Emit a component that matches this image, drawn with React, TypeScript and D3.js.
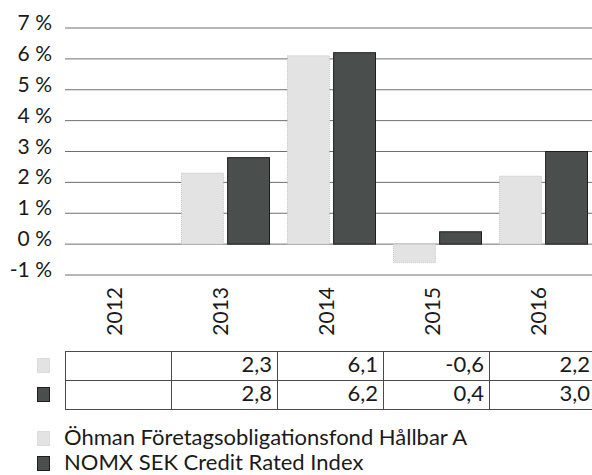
import * as d3 from 'd3';

const YEARS = ['2012', '2013', '2014', '2015', '2016'];
const FUND = [null, 2.3, 6.1, -0.6, 2.2];
const INDEX = [null, 2.8, 6.2, 0.4, 3.0];
const SERIES = ['Öhman Företagsobligationsfond Hållbar A', 'NOMX SEK Credit Rated Index'];
const Y_TICKS = [-1, 0, 1, 2, 3, 4, 5, 6, 7];

const W = 592;
const H = 475;
const FONT = 'Lato, "Open Sans", sans-serif';
const INK = '#1a1a1a';

const STYLES = [
  { fill: '#e3e3e3', stroke: '#c4c4c4', dash: '1,1' },
  { fill: '#4a4e4d', stroke: '#1e1e1e', dash: null },
];

const fmt = (v: number) => v.toFixed(1).replace('.', ',');

export default function App() {
  const x0 = d3.scaleBand<string>().domain(YEARS).range([65, 595]);
  const x1 = d3.scaleBand<number>().domain([0, 1]).range([10, 99]).paddingInner(0.07);
  const y = d3.scaleLinear().domain([-1, 7]).range([275, 28]);

  const data = [FUND, INDEX];

  const tableTop = 351;
  const rowH = 29;

  return (
    <>
      <style>{`body{margin:0}`}</style>
      <svg width={W} height={H} style={{ display: 'block', background: '#fff' }} fontFamily={FONT}>
        {/* grid */}
        {Y_TICKS.map(t => (
          <g key={t}>
            <line x1={65} x2={W} y1={y(t)} y2={y(t)} stroke="#6f6f6f" strokeWidth={1} />
            <text x={52} y={y(t) + 2} textAnchor="end" fontSize={21} fill={INK}>
              {`${t} %`}
            </text>
          </g>
        ))}

        {/* bars */}
        {data.map((vals, si) =>
          vals.map((v, i) => {
            if (v === null) return null;
            const bx = (x0(YEARS[i]) ?? 0) + (x1(si) ?? 0);
            const top = y(Math.max(0, v));
            const h = Math.abs(y(v) - y(0));
            const st = STYLES[si];
            return (
              <rect
                key={`${si}-${i}`}
                x={bx + 0.5}
                y={top}
                width={x1.bandwidth() - 1}
                height={h}
                fill={st.fill}
                stroke={st.stroke}
                strokeDasharray={st.dash ?? undefined}
                strokeWidth={1}
              />
            );
          })
        )}

        {/* year labels */}
        {YEARS.map(yr => {
          const cx = (x0(yr) ?? 0) + x0.bandwidth() / 2 + 4;
          return (
            <text
              key={yr}
              transform={`translate(${cx},287) rotate(-90)`}
              textAnchor="end"
              fontSize={21}
              fill={INK}
            >
              {yr}
            </text>
          );
        })}

        {/* data table */}
        <g>
          {data.map((vals, si) => {
            const ry = tableTop + si * rowH;
            const st = STYLES[si];
            return (
              <g key={si}>
                <rect x={37.5} y={ry + 7.5} width={12} height={14} fill={st.fill} stroke={st.stroke}
                  strokeDasharray={st.dash ?? undefined} />
                {vals.map((v, i) =>
                  v === null ? null : (
                    <text key={i} x={(x0(YEARS[i]) ?? 0) + x0.bandwidth() - 5} y={ry + 21}
                      textAnchor="end" fontSize={22} fill={INK}>
                      {fmt(v)}
                    </text>
                  )
                )}
              </g>
            );
          })}
          {[0, 1, 2].map(r => (
            <line key={`h${r}`} x1={65} x2={595} y1={tableTop + r * rowH + 0.5} y2={tableTop + r * rowH + 0.5}
              stroke="#4a4a4a" />
          ))}
          {YEARS.map(yr => (
            <line key={`v${yr}`} x1={(x0(yr) ?? 0) + 0.5} x2={(x0(yr) ?? 0) + 0.5}
              y1={tableTop} y2={tableTop + 2 * rowH + 1} stroke="#4a4a4a" />
          ))}
        </g>

        {/* legend */}
        {SERIES.map((name, si) => {
          const ly = 445 + si * 25;
          const st = STYLES[si];
          return (
            <g key={name}>
              <rect x={37.5} y={ly - 13.5} width={12} height={14} fill={st.fill} stroke={st.stroke}
                strokeDasharray={st.dash ?? undefined} />
              <text x={64} y={ly} fontSize={22} fill={INK}>{name}</text>
            </g>
          );
        })}
      </svg>
    </>
  );
}
